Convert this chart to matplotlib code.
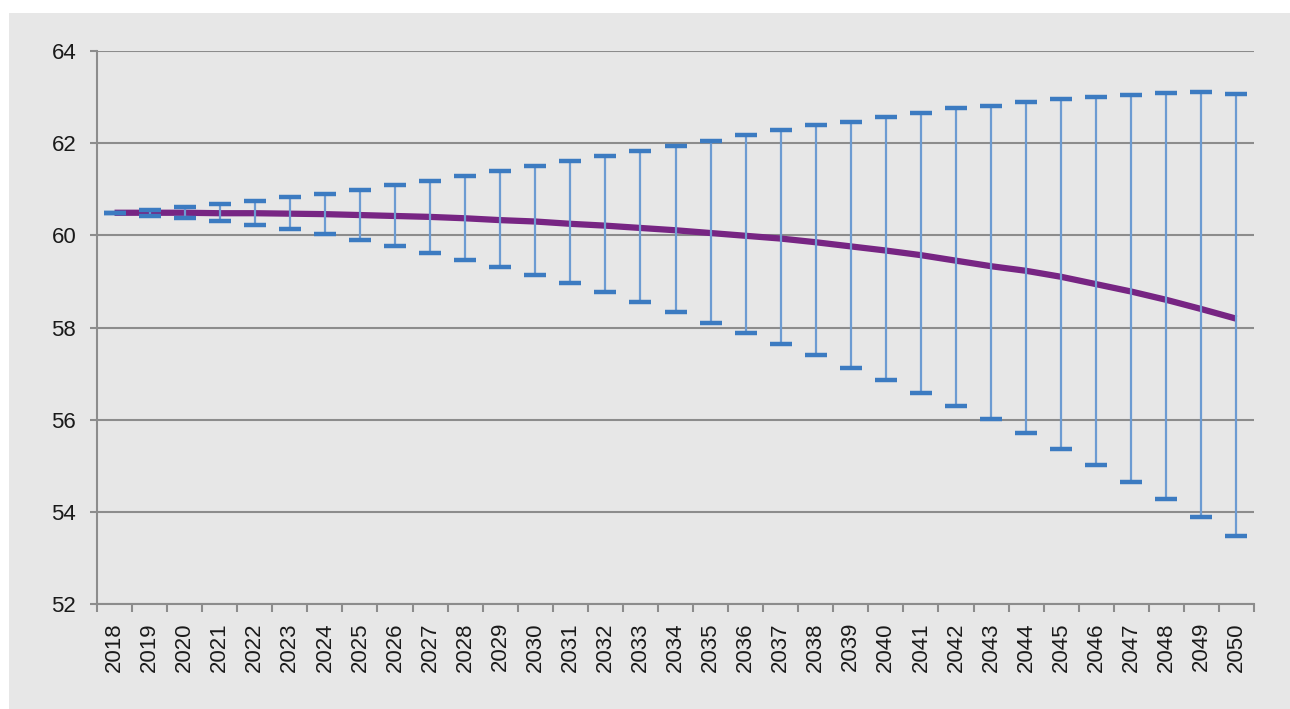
import matplotlib
matplotlib.use("Agg")
import matplotlib.pyplot as plt
from matplotlib.patches import Rectangle
from matplotlib.ticker import FixedLocator, NullFormatter
import numpy as np

years = list(range(2018, 2051))
mean_vals = [60.49, 60.49, 60.49, 60.48, 60.48, 60.47, 60.46, 60.44, 60.42, 60.40,
             60.37, 60.33, 60.30, 60.25, 60.21, 60.16, 60.11, 60.05, 59.99, 59.93,
             59.85, 59.76, 59.67, 59.57, 59.45, 59.33, 59.23, 59.10, 58.94, 58.78,
             58.60, 58.40, 58.19]
upper_vals = [60.49, 60.55, 60.61, 60.68, 60.74, 60.83, 60.90, 60.98, 61.09, 61.18,
              61.28, 61.40, 61.50, 61.61, 61.72, 61.83, 61.94, 62.05, 62.17, 62.28,
              62.39, 62.47, 62.57, 62.65, 62.76, 62.81, 62.89, 62.95, 63.00, 63.05,
              63.09, 63.10, 63.07]
lower_vals = [60.49, 60.42, 60.37, 60.31, 60.22, 60.14, 60.03, 59.90, 59.77, 59.62,
              59.46, 59.31, 59.14, 58.96, 58.76, 58.55, 58.33, 58.10, 57.87, 57.64,
              57.40, 57.13, 56.86, 56.58, 56.29, 56.01, 55.70, 55.36, 55.02, 54.65,
              54.28, 53.88, 53.47]
y_ticks = [52, 54, 56, 58, 60, 62, 64]

plt.rcParams['font.family'] = ['Liberation Sans', 'DejaVu Sans']

W, H = 1290, 709
fig = plt.figure(figsize=(W / 100, H / 100), dpi=100, facecolor='white')

# gray panel
fig.patches.append(Rectangle((9 / W, -0.01), 1.01, 1.01 - 13 / H, transform=fig.transFigure,
                             facecolor='#E7E7E7', edgecolor='none', zorder=-10))

ax = fig.add_axes([97 / W, 1 - 604 / H, (1254 - 97) / W, (604 - 51) / H])
ax.set_zorder(5)
ax.set_facecolor('#E7E7E7')

x = np.arange(len(years))
mean = np.array(mean_vals)
up = np.array(upper_vals)
lo = np.array(lower_vals)

ax.plot(x, mean, color='#772583', linewidth=4.5, solid_capstyle='butt', zorder=3)
eb = ax.errorbar(x, mean, yerr=[mean - lo, up - mean], fmt='none',
                 ecolor='#6C9BD2', elinewidth=1.6, capsize=8, capthick=3.2, zorder=4)
for cl in eb[1]:
    cl.set_markeredgecolor('#3C7BC1')
    cl.set_color('#3C7BC1')

ax.set_xlim(-0.5, len(years) - 0.5)
ax.set_ylim(52, 64)
ax.set_yticks(y_ticks)
ax.yaxis.grid(True, color='#8C8C8C', linewidth=1.5)
ax.set_axisbelow(True)

ax.set_xticks(x)
ax.set_xticklabels([str(y) for y in years], rotation=90, fontsize=16, color='#1A1A1A')
ax.xaxis.set_minor_locator(FixedLocator(np.arange(-0.5, len(years), 1.0)))
ax.xaxis.set_minor_formatter(NullFormatter())
ax.tick_params(axis='x', which='major', length=0, pad=13)
ax.tick_params(axis='x', which='minor', length=6, width=1.5, color='#8C8C8C', direction='out')
ax.tick_params(axis='y', length=5, width=1.5, color='#8C8C8C', labelsize=16,
               labelcolor='#1A1A1A', pad=10)

for s in ['top', 'right']:
    ax.spines[s].set_visible(False)
for s in ['left', 'bottom']:
    ax.spines[s].set_color('#8C8C8C')
    ax.spines[s].set_linewidth(1.5)

fig.savefig('out.png', dpi=100, facecolor='white')
